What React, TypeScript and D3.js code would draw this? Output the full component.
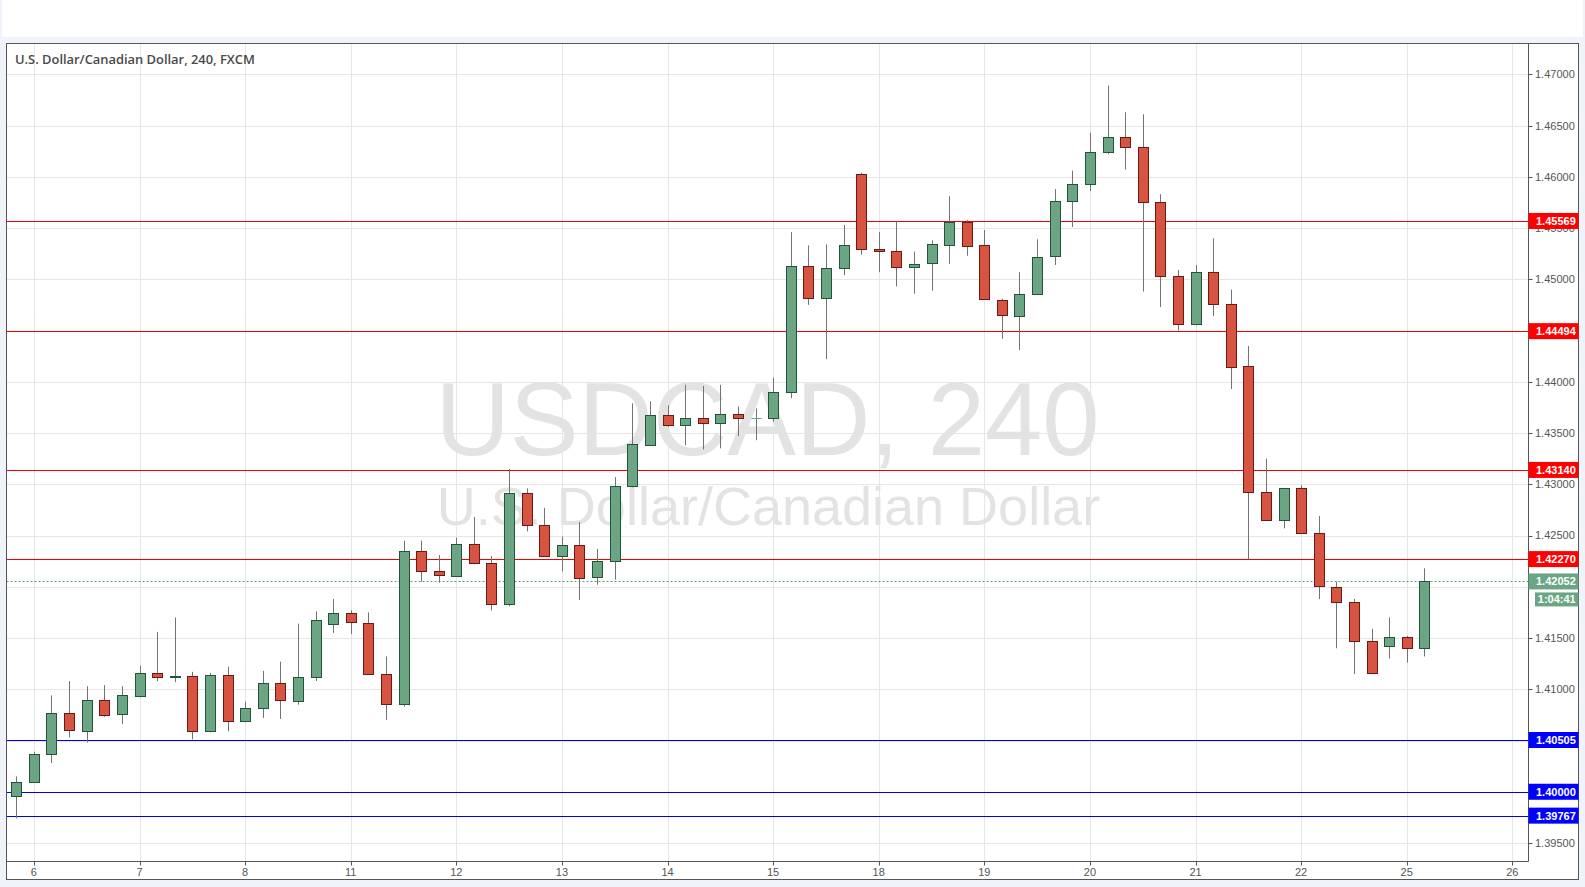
import React from "react";
import * as d3 from "d3";

// ---- Data (USD/CAD, 240 min, FXCM) ----
const opens = [
  1.3996, 1.4010, 1.4037, 1.4077, 1.4060, 1.4090, 1.4075, 1.4094, 1.4116, 1.4112,
  1.4113, 1.4059, 1.4114, 1.4069, 1.4082, 1.4106, 1.4089, 1.4112, 1.4163, 1.4174,
  1.4165, 1.4115, 1.4086, 1.4235, 1.4215, 1.4211, 1.4242, 1.4223, 1.4183, 1.4291,
  1.4260, 1.4230, 1.4241, 1.4209, 1.4225, 1.4298, 1.4339, 1.4368, 1.4358, 1.4365,
  1.4360, 1.4369, 1.4365, 1.4365, 1.4390, 1.4513, 1.4482, 1.4511, 1.4603, 1.4530,
  1.4528, 1.4512, 1.4515, 1.4534, 1.4556, 1.4533, 1.4480, 1.4465, 1.4486, 1.4522,
  1.4576, 1.4593, 1.4624, 1.4639, 1.4629, 1.4575, 1.4503, 1.4456, 1.4507, 1.4476,
  1.4415, 1.4292, 1.4265, 1.4296, 1.4252, 1.4200, 1.4185, 1.4147, 1.4142, 1.4151,
  1.4140,
];
const highs = [
  1.4015, 1.4039, 1.4094, 1.4108, 1.4103, 1.4104, 1.4103, 1.4123, 1.4156, 1.4170,
  1.4117, 1.4116, 1.4122, 1.4088, 1.4118, 1.4127, 1.4164, 1.4176, 1.4188, 1.4177,
  1.4175, 1.4132, 1.4245, 1.4245, 1.4231, 1.4248, 1.4268, 1.4230, 1.4315, 1.4296,
  1.4277, 1.4249, 1.4263, 1.4237, 1.4307, 1.4379, 1.4381, 1.4377, 1.4397, 1.4396,
  1.4397, 1.4376, 1.4374, 1.4404, 1.4546, 1.4533, 1.4534, 1.4553, 1.4604, 1.4546,
  1.4557, 1.4527, 1.4538, 1.4581, 1.4558, 1.4548, 1.4481, 1.4507, 1.4539, 1.4588,
  1.4606, 1.4643, 1.4689, 1.4663, 1.4661, 1.4583, 1.4509, 1.4514, 1.4540, 1.4490,
  1.4435, 1.4325, 1.4296, 1.4299, 1.4269, 1.4205, 1.4188, 1.4159, 1.4170, 1.4152,
  1.4218,
];
const lows = [
  1.3974, 1.4010, 1.4028, 1.4053, 1.4048, 1.4073, 1.4066, 1.4092, 1.4108, 1.4107,
  1.4051, 1.4058, 1.4059, 1.4068, 1.4072, 1.4071, 1.4085, 1.4108, 1.4155, 1.4154,
  1.4115, 1.4070, 1.4083, 1.4205, 1.4204, 1.4210, 1.4222, 1.4177, 1.4181, 1.4254,
  1.4230, 1.4215, 1.4187, 1.4202, 1.4207, 1.4297, 1.4338, 1.4356, 1.4338, 1.4334,
  1.4335, 1.4347, 1.4343, 1.4361, 1.4384, 1.4475, 1.4422, 1.4504, 1.4524, 1.4507,
  1.4493, 1.4486, 1.4489, 1.4515, 1.4523, 1.4480, 1.4442, 1.4431, 1.4485, 1.4514,
  1.4551, 1.4586, 1.4622, 1.4607, 1.4488, 1.4473, 1.4450, 1.4455, 1.4464, 1.4393,
  1.4227, 1.4265, 1.4257, 1.4252, 1.4188, 1.4140, 1.4115, 1.4116, 1.4130, 1.4126,
  1.4132,
];
const closes = [
  1.4010, 1.4037, 1.4077, 1.4060, 1.4090, 1.4075, 1.4094, 1.4116, 1.4112, 1.4113,
  1.4059, 1.4114, 1.4069, 1.4082, 1.4106, 1.4089, 1.4112, 1.4168, 1.4174, 1.4165,
  1.4115, 1.4086, 1.4235, 1.4215, 1.4211, 1.4242, 1.4223, 1.4183, 1.4291, 1.4260,
  1.4230, 1.4241, 1.4209, 1.4225, 1.4298, 1.4339, 1.4368, 1.4358, 1.4365, 1.4360,
  1.4369, 1.4365, 1.4365, 1.4390, 1.4513, 1.4482, 1.4511, 1.4533, 1.4530, 1.4528,
  1.4512, 1.4515, 1.4534, 1.4556, 1.4533, 1.4480, 1.4465, 1.4486, 1.4522, 1.4576,
  1.4593, 1.4624, 1.4639, 1.4629, 1.4575, 1.4503, 1.4456, 1.4507, 1.4476, 1.4415,
  1.4292, 1.4265, 1.4296, 1.4252, 1.4200, 1.4185, 1.4147, 1.4116, 1.4151, 1.4140,
  1.42052,
];

const dayLabels = ["6", "7", "8", "11", "12", "13", "14", "15", "18", "19", "20", "21", "22", "25", "26"];
const dayBarIndex = [1, 7, 13, 19, 25, 31, 37, 43, 49, 55, 61, 67, 73, 79, 85];
const priceTicks = [
  1.395, 1.4, 1.405, 1.41, 1.415, 1.42, 1.425, 1.43, 1.435, 1.44, 1.445, 1.45, 1.455, 1.46, 1.465, 1.47,
];
const resistanceLevels = [1.45569, 1.44494, 1.4314, 1.4227];
const supportLevels = [1.40505, 1.4, 1.39767];
const lastPrice = 1.42052;
const countdown = "1:04:41";
const title = "U.S. Dollar/Canadian Dollar, 240, FXCM";
const watermark1 = "USDCAD, 240";
const watermark2 = "U.S. Dollar/Canadian Dollar";

// ---- Layout ----
const W = 1585;
const H = 887;
const plotL = 6.5;
const plotR = 1528.5;
const plotT = 43.5;
const plotB = 861.5;
const frameR = 1578.5;
const frameB = 879.5;

const x = d3.scaleLinear().domain([0, 85]).range([16.3, 1512.3]);
const y = d3.scaleLinear().domain([1.395, 1.47]).range([843, 74.3]);

const GREEN = "#6ba583";
const GREEN_B = "#225437";
const RED = "#d75442";
const RED_B = "#6b1a12";
const WICK = "#737373";
const GRID = "#e6e6e6";
const AXIS = "#555555";
const TXT = "#555555";

const fmt = (v: number) => v.toFixed(5);
const py = (p: number) => Math.round(y(p)) + 0.5;

export default function App() {
  const candles = opens.map((o, i) => ({ o, h: highs[i], l: lows[i], c: closes[i], i }));
  const bw = 10;
  const lastY = y(lastPrice);
  return (
    <div style={{ position: "fixed", left: 0, top: 0, width: W, height: H }}>
      <svg width={W} height={H} style={{ display: "block" }}>
        <defs>
          <clipPath id="plotClip">
            <rect x={plotL} y={plotT} width={plotR - plotL} height={plotB - plotT} />
          </clipPath>
        </defs>
        <rect x={0} y={0} width={W} height={H} fill="#f0f3fa" />
        <rect x={2} y={0} width={W - 4} height={37} fill="#ffffff" />
        <rect x={plotL} y={plotT} width={frameR - plotL} height={frameB - plotT} fill="#ffffff" />

        <g clipPath="url(#plotClip)">
          {dayBarIndex.map((d, k) => (
            <line key={"vg" + k} x1={Math.round(x(d)) + 0.5} x2={Math.round(x(d)) + 0.5} y1={plotT} y2={plotB} stroke={GRID} strokeWidth={1} />
          ))}
          {priceTicks.map((p, k) => (
            <line key={"hg" + k} x1={plotL} x2={plotR} y1={py(p)} y2={py(p)} stroke={GRID} strokeWidth={1} />
          ))}

          <text x={(plotL + plotR) / 2} y={455} textAnchor="middle" fontFamily="'Liberation Sans', Arial, sans-serif" fontSize={103} fill="#e3e3e3">
            {watermark1}
          </text>
          <text x={(plotL + plotR) / 2 + 1} y={525} textAnchor="middle" fontFamily="'Liberation Sans', Arial, sans-serif" fontSize={54} fill="#e3e3e3">
            {watermark2}
          </text>

          {resistanceLevels.map((p, k) => (
            <line key={"rl" + k} x1={plotL} x2={plotR} y1={py(p)} y2={py(p)} stroke="#ee0000" strokeWidth={1} />
          ))}
          {supportLevels.map((p, k) => (
            <line key={"sl" + k} x1={plotL} x2={plotR} y1={py(p)} y2={py(p)} stroke="#0000ee" strokeWidth={1} />
          ))}
          <line x1={plotL} x2={plotR} y1={py(lastPrice)} y2={py(lastPrice)} stroke="#5e9c7a" strokeWidth={1} strokeDasharray="2,2" />

          {candles.map((d) => {
            const cx = Math.round(x(d.i)) + 0.5;
            const up = d.c >= d.o;
            const yTop = y(Math.max(d.o, d.c));
            const yBot = y(Math.min(d.o, d.c));
            const hgt = yBot - yTop;
            return (
              <g key={"c" + d.i}>
                <line x1={cx} x2={cx} y1={y(d.h)} y2={y(d.l)} stroke={WICK} strokeWidth={1} />
                {hgt < 0.5 ? (
                  <line x1={cx - bw / 2} x2={cx + bw / 2} y1={Math.round(yTop) + 0.5} y2={Math.round(yTop) + 0.5} stroke={GREEN} strokeWidth={1} />
                ) : (
                  <rect
                    x={cx - bw / 2}
                    y={Math.round(yTop) + 0.5}
                    width={bw}
                    height={Math.max(1, Math.round(hgt))}
                    fill={up ? GREEN : RED}
                    stroke={up ? GREEN_B : RED_B}
                    strokeWidth={1}
                  />
                )}
              </g>
            );
          })}
        </g>

        <text x={15} y={64} fontFamily="'Open Sans', sans-serif" fontWeight={600} fontSize={12.9} fill="#4a4a4a">
          {title}
        </text>

        <line x1={plotR} x2={plotR} y1={plotT} y2={plotB} stroke={AXIS} strokeWidth={1} />
        <line x1={plotL} x2={plotR} y1={plotB} y2={plotB} stroke={AXIS} strokeWidth={1} />
        <rect x={plotL} y={plotT} width={frameR - plotL} height={frameB - plotT} fill="none" stroke={AXIS} strokeWidth={1} />

        {dayBarIndex.map((d, k) => (
          <g key={"xt" + k}>
            <line x1={Math.round(x(d)) + 0.5} x2={Math.round(x(d)) + 0.5} y1={plotB} y2={plotB + 4} stroke={AXIS} strokeWidth={1} />
            <text x={x(d)} y={876} textAnchor="middle" fontFamily="'Liberation Sans', Arial, sans-serif" fontSize={11} fill={TXT}>
              {dayLabels[k]}
            </text>
          </g>
        ))}

        {priceTicks.map((p, k) => (
          <g key={"yt" + k}>
            <line x1={plotR} x2={plotR + 4} y1={py(p)} y2={py(p)} stroke={AXIS} strokeWidth={1} />
            {Math.abs(y(p) - lastY) > 12 ? (
              <text x={1535} y={y(p)} dy="0.36em" fontFamily="'Liberation Sans', Arial, sans-serif" fontSize={11} fill={TXT}>
                {fmt(p)}
              </text>
            ) : null}
          </g>
        ))}

        {resistanceLevels.map((p, k) => (
          <g key={"rlab" + k}>
            <rect x={plotR} y={y(p) - 8} width={frameR - plotR} height={16} fill="#ff0000" />
            <text x={1536} y={y(p)} dy="0.36em" fontFamily="'Liberation Sans', Arial, sans-serif" fontWeight="bold" fontSize={11} fill="#ffffff">
              {fmt(p)}
            </text>
          </g>
        ))}
        {supportLevels.map((p, k) => (
          <g key={"slab" + k}>
            <rect x={plotR} y={y(p) - 8} width={frameR - plotR} height={16} fill="#0000ff" />
            <text x={1536} y={y(p)} dy="0.36em" fontFamily="'Liberation Sans', Arial, sans-serif" fontWeight="bold" fontSize={11} fill="#ffffff">
              {fmt(p)}
            </text>
          </g>
        ))}
        <rect x={plotR} y={lastY - 8} width={frameR - plotR} height={16} fill="#6ba583" />
        <text x={1536} y={lastY} dy="0.36em" fontFamily="'Liberation Sans', Arial, sans-serif" fontWeight="bold" fontSize={11} fill="#ffffff">
          {fmt(lastPrice)}
        </text>
        <rect x={1535} y={lastY + 11} width={frameR - 1535} height={14} fill="#6ba583" />
        <text x={(1535 + frameR) / 2} y={lastY + 18} dy="0.36em" textAnchor="middle" fontFamily="'Liberation Sans', Arial, sans-serif" fontWeight="bold" fontSize={11} fill="#ffffff">
          {countdown}
        </text>
      </svg>
    </div>
  );
}
